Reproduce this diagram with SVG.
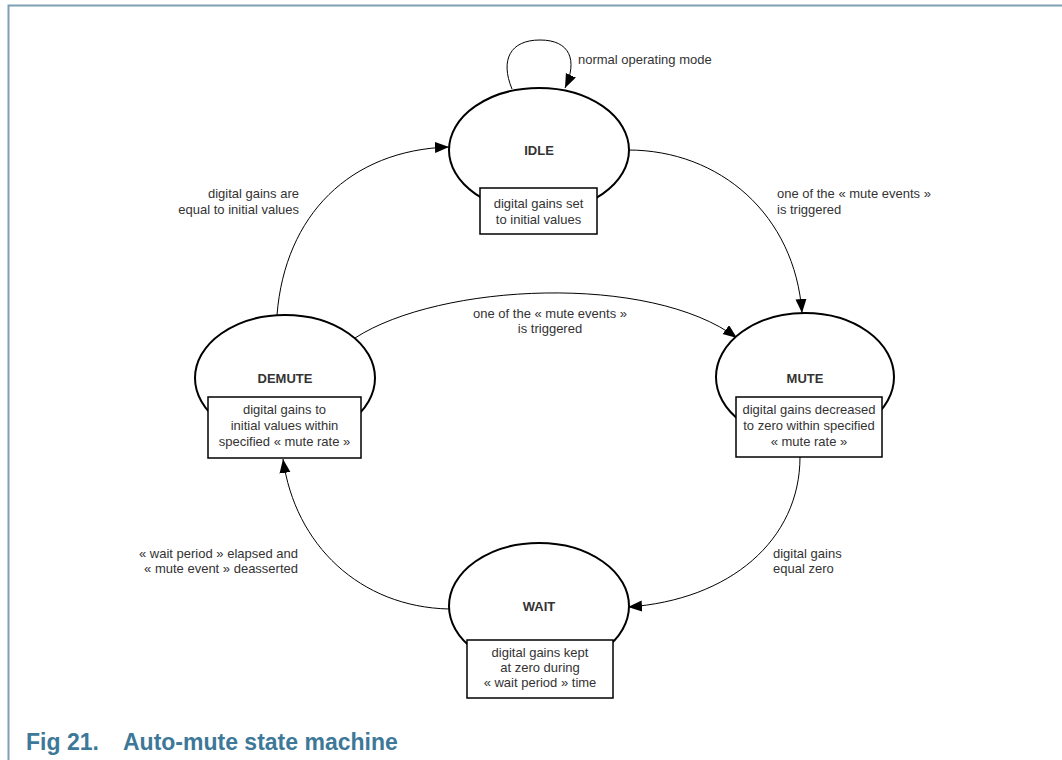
<svg xmlns="http://www.w3.org/2000/svg" width="1062" height="760" viewBox="0 0 1062 760">
<style>
.frame{stroke:#7f9fb4;stroke-width:2;fill:none}
.state{fill:#fff;stroke:#000;stroke-width:2}
.box{fill:#fff;stroke:#000;stroke-width:1.5}
.title{font-family:"Liberation Sans",Arial,sans-serif;font-size:13px;font-weight:bold;fill:#333;text-anchor:middle}
.btxt{font-family:"Liberation Sans",Arial,sans-serif;font-size:13px;fill:#333;text-anchor:middle}
.lbl{font-family:"Liberation Sans",Arial,sans-serif;font-size:13px;fill:#333}
.edge{fill:none;stroke:#000;stroke-width:1;marker-end:url(#arr)}
.cap{font-family:"Liberation Sans",Arial,sans-serif;font-size:23px;font-weight:bold;fill:#3d7898}
</style>
<defs>
<marker id="arr" markerUnits="userSpaceOnUse" markerWidth="15" markerHeight="12" refX="14" refY="5.5" orient="auto">
<path d="M0,0 L14,5.5 L0,11 z" fill="#000"/>
</marker>
</defs>
<rect width="1062" height="760" fill="#fff"/>
<path class="frame" d="M8.5,760 L8.5,5.5 L1062,5.5"/>

<g id="connectors">
<path class="edge" d="M512,89 C500,60 510,40 540,40 C570,40 578,60 565,88"/>
<path class="edge" d="M277,315 C285,215 350,150 449,147"/>
<path class="edge" d="M628,150 C720,150 795,215 802,313"/>
<path class="edge" d="M355,338 C440,283 650,273 737,338"/>
<path class="edge" d="M800,457 C800,540 730,600 628,607"/>
<path class="edge" d="M449,609 C360,607 295,545 283,459"/>
<text class="lbl" x="578" y="64">normal operating mode</text>
<text class="lbl" x="299" y="198" text-anchor="end">digital gains are</text>
<text class="lbl" x="299" y="214" text-anchor="end">equal to initial values</text>
<text class="lbl" x="777" y="198">one of the « mute events »</text>
<text class="lbl" x="777" y="214">is triggered</text>
<text class="lbl" x="550" y="318" text-anchor="middle">one of the « mute events »</text>
<text class="lbl" x="550" y="333" text-anchor="middle">is triggered</text>
<text class="lbl" x="773" y="558">digital gains</text>
<text class="lbl" x="773" y="573">equal zero</text>
<text class="lbl" x="298" y="558" text-anchor="end">« wait period » elapsed and</text>
<text class="lbl" x="298" y="573" text-anchor="end">« mute event » deasserted</text>
</g>

<g id="idle">
<ellipse class="state" cx="539" cy="150" rx="90" ry="62"/>
<text class="title" x="539" y="155">IDLE</text>
<rect class="box" x="480" y="188" width="117" height="46"/>
<text class="btxt" x="538.5" y="208">digital gains set</text>
<text class="btxt" x="538.5" y="224">to initial values</text>
</g>

<g id="demute">
<ellipse class="state" cx="285" cy="378" rx="90" ry="63"/>
<text class="title" x="285" y="383">DEMUTE</text>
<rect class="box" x="208" y="397" width="153" height="61"/>
<text class="btxt" x="284.5" y="414">digital gains to</text>
<text class="btxt" x="284.5" y="430">initial values within</text>
<text class="btxt" x="284.5" y="446">specified « mute rate »</text>
</g>

<g id="mute">
<ellipse class="state" cx="805" cy="377" rx="89" ry="64"/>
<text class="title" x="805" y="383">MUTE</text>
<rect class="box" x="736" y="397" width="146" height="60"/>
<text class="btxt" x="809" y="414">digital gains decreased</text>
<text class="btxt" x="809" y="430">to zero within specified</text>
<text class="btxt" x="809" y="446">« mute rate »</text>
</g>

<g id="wait">
<ellipse class="state" cx="539" cy="606" rx="90" ry="63"/>
<text class="title" x="539" y="611">WAIT</text>
<rect class="box" x="467" y="640" width="146" height="58"/>
<text class="btxt" x="540" y="657">digital gains kept</text>
<text class="btxt" x="540" y="672">at zero during</text>
<text class="btxt" x="540" y="687">« wait period » time</text>
</g>

<text class="cap" y="750"><tspan x="26">Fig 21.</tspan><tspan x="123">Auto-mute state machine</tspan></text>
</svg>
